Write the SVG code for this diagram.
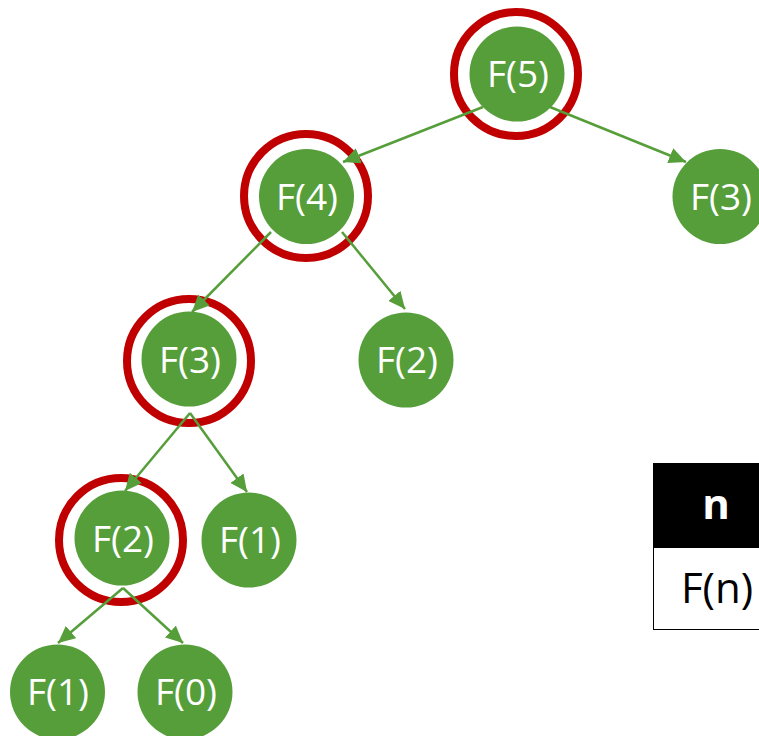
<svg xmlns="http://www.w3.org/2000/svg" width="759" height="736" viewBox="0 0 759 736">
  <style>
    .node { fill: #559E3A; }
    .ring { fill: none; stroke: #C00000; stroke-width: 8; }
    .label { font-family: "Open Sans", "Noto Sans", sans-serif; font-size: 37px; fill: #FFFFFF; text-anchor: middle; }
    .edge { stroke: #559E3A; stroke-width: 2.5; fill: none; marker-end: url(#arrow); }
    .cell-text { font-family: "Open Sans", "Noto Sans", sans-serif; font-size: 42px; text-anchor: middle; }
  </style>
  <defs>
    <marker id="arrow" markerUnits="userSpaceOnUse" markerWidth="18" markerHeight="16" refX="17" refY="8" orient="auto">
      <path d="M0,0 L17,8 L0,16 Z" fill="#559E3A"/>
    </marker>
  </defs>
  <rect width="759" height="736" fill="#FFFFFF"/>

  <!-- call tree nodes -->
  <g id="f5">
    <circle class="node" cx="517" cy="74" r="47.5"/>
    <circle class="ring" cx="516" cy="74" r="62"/>
    <text class="label" x="518" y="87">F(5)</text>
  </g>
  <g id="f4">
    <circle class="node" cx="306.5" cy="196.5" r="47.5"/>
    <circle class="ring" cx="306" cy="196" r="62"/>
    <text class="label" x="307" y="210">F(4)</text>
  </g>
  <g id="f3-right">
    <circle class="node" cx="720" cy="196.5" r="47.5"/>
    <text class="label" x="721" y="210">F(3)</text>
  </g>
  <g id="f3-left">
    <circle class="node" cx="189" cy="359" r="47.5"/>
    <circle class="ring" cx="189" cy="361" r="62"/>
    <text class="label" x="190" y="373">F(3)</text>
  </g>
  <g id="f2-mid">
    <circle class="node" cx="406" cy="360" r="47.5"/>
    <text class="label" x="407" y="373">F(2)</text>
  </g>
  <g id="f2-left">
    <circle class="node" cx="122" cy="538" r="47.5"/>
    <circle class="ring" cx="121" cy="540" r="62"/>
    <text class="label" x="123" y="552">F(2)</text>
  </g>
  <g id="f1-mid">
    <circle class="node" cx="249" cy="540" r="47.5"/>
    <text class="label" x="250" y="553">F(1)</text>
  </g>
  <g id="f1-bottom">
    <circle class="node" cx="57.5" cy="692" r="47.5"/>
    <text class="label" x="58" y="705">F(1)</text>
  </g>
  <g id="f0">
    <circle class="node" cx="185" cy="692" r="47.5"/>
    <text class="label" x="186" y="705">F(0)</text>
  </g>

  <!-- recursive calls -->
  <g id="connectors">
    <line class="edge" x1="483" y1="107" x2="343" y2="162"/>
    <line class="edge" x1="550" y1="107" x2="686" y2="162"/>
    <line class="edge" x1="271" y1="232" x2="192" y2="312"/>
    <line class="edge" x1="342" y1="232" x2="405" y2="309"/>
    <line class="edge" x1="190" y1="413" x2="125" y2="491"/>
    <line class="edge" x1="190" y1="413" x2="247" y2="492"/>
    <line class="edge" x1="123" y1="588" x2="58" y2="643"/>
    <line class="edge" x1="123" y1="588" x2="183" y2="643"/>
  </g>

  <!-- memo table -->
  <g id="memo-table">
    <rect x="653.5" y="463.5" width="140" height="84" fill="#000000" stroke="#000000" stroke-width="1"/>
    <rect x="653.5" y="547.5" width="140" height="82" fill="#FFFFFF" stroke="#000000" stroke-width="1"/>
    <text class="cell-text" x="716" y="519" fill="#FFFFFF" font-weight="bold">n</text>
    <text class="cell-text" x="717" y="603" fill="#000000">F(n)</text>
  </g>
</svg>
